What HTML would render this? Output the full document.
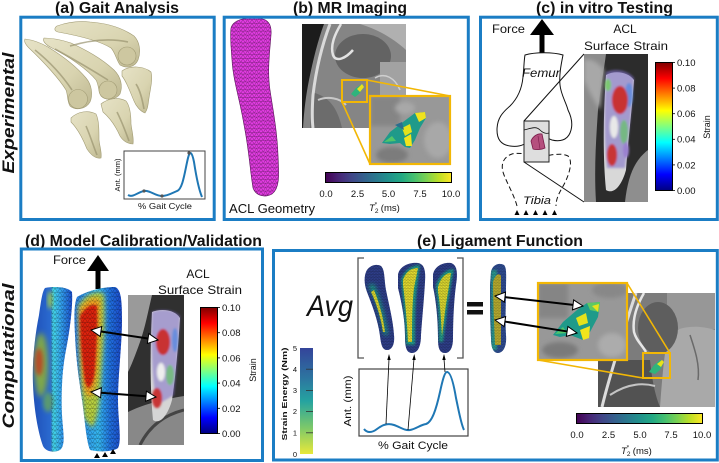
<!DOCTYPE html>
<html><head><meta charset="utf-8"><style>
html,body{margin:0;padding:0;background:#fff;width:719px;height:463px;overflow:hidden}
svg{display:block}
text{font-family:"Liberation Sans",Arial,sans-serif;fill:#111}
</style></head><body>
<svg width="719" height="463" viewBox="0 0 719 463" xmlns="http://www.w3.org/2000/svg">
<defs>
<linearGradient id="vir" x1="0" x2="1" y1="0" y2="0">
<stop offset="0" stop-color="#440154"/><stop offset="0.1" stop-color="#482475"/><stop offset="0.2" stop-color="#414487"/><stop offset="0.3" stop-color="#355f8d"/><stop offset="0.4" stop-color="#2a788e"/><stop offset="0.5" stop-color="#21918c"/><stop offset="0.6" stop-color="#22a884"/><stop offset="0.7" stop-color="#44bf70"/><stop offset="0.8" stop-color="#7ad151"/><stop offset="0.9" stop-color="#bddf26"/><stop offset="1" stop-color="#fde725"/>
</linearGradient>
<linearGradient id="jet" x1="0" x2="0" y1="0" y2="1">
<stop offset="0" stop-color="#800000"/><stop offset="0.125" stop-color="#ff0000"/><stop offset="0.375" stop-color="#ffff00"/><stop offset="0.625" stop-color="#00ffff"/><stop offset="0.875" stop-color="#0000ff"/><stop offset="1" stop-color="#000080"/>
</linearGradient>
<linearGradient id="se" x1="0" x2="0" y1="0" y2="1">
<stop offset="0" stop-color="#34449a"/><stop offset="0.3" stop-color="#2c78a0"/><stop offset="0.5" stop-color="#25a3a0"/><stop offset="0.75" stop-color="#7cc86a"/><stop offset="1" stop-color="#e8e83a"/>
</linearGradient>
<linearGradient id="bone" x1="0" x2="1" y1="0" y2="1">
<stop offset="0" stop-color="#e6e2c6"/><stop offset="0.6" stop-color="#d9d4b0"/><stop offset="1" stop-color="#bdb790"/>
</linearGradient>
<linearGradient id="dL" x1="33" x2="72" y1="0" y2="0" gradientUnits="userSpaceOnUse">
<stop offset="0" stop-color="#1f50b8"/><stop offset="0.45" stop-color="#2a6ad0"/><stop offset="0.52" stop-color="#45d8e8"/><stop offset="0.7" stop-color="#35a8f0"/><stop offset="1" stop-color="#1a50d0"/>
</linearGradient>
<linearGradient id="dR" x1="75" x2="122" y1="0" y2="0" gradientUnits="userSpaceOnUse">
<stop offset="0" stop-color="#2a80e8"/><stop offset="0.5" stop-color="#35b8f0"/><stop offset="0.75" stop-color="#2070e0"/><stop offset="1" stop-color="#1a48c8"/>
</linearGradient>
<pattern id="mesh" width="5" height="4.3" patternUnits="userSpaceOnUse">
<path d="M0,0H5M0,4.3H5M0,0L2.5,4.3L5,0" stroke="#000" stroke-width="0.35" fill="none"/>
</pattern>
<pattern id="meshs" width="3.2" height="2.8" patternUnits="userSpaceOnUse">
<path d="M0,0H3.2M0,2.8H3.2M0,0L1.6,2.8L3.2,0" stroke="#000" stroke-width="0.3" fill="none"/>
</pattern>
<pattern id="meshp" width="4.5" height="3.9" patternUnits="userSpaceOnUse">
<path d="M0,0H4.5M0,3.9H4.5M0,0L2.25,3.9L4.5,0" stroke="#2a0a2a" stroke-width="0.35" fill="none"/>
</pattern>
<filter id="bl1" x="-20%" y="-20%" width="140%" height="140%"><feGaussianBlur stdDeviation="1"/></filter>
<filter id="bl2" x="-30%" y="-30%" width="160%" height="160%"><feGaussianBlur stdDeviation="2"/></filter>
<filter id="bl3" x="-30%" y="-30%" width="160%" height="160%"><feGaussianBlur stdDeviation="3"/></filter>
<clipPath id="cMRb"><rect x="302" y="24" width="104" height="104"/></clipPath>
<clipPath id="cInB"><rect x="370" y="96" width="80" height="68"/></clipPath>
<clipPath id="cPhC"><rect x="584" y="54" width="64" height="148"/></clipPath>
<clipPath id="cPhD"><rect x="128" y="295" width="56" height="150"/></clipPath>
<clipPath id="cMRe"><rect x="598" y="293" width="117" height="114"/></clipPath>
<clipPath id="cInE"><rect x="538" y="283" width="89" height="77"/></clipPath>
<clipPath id="cdL"><path d="M45,288 C55,286 68,287 72,292 C73,305 70,330 66,350 C62,370 61,395 62,415 C63,432 66,445 60,450 C54,453 46,452 43,446 C38,432 34,410 33,385 C32,360 35,335 39,315 C41,302 42,292 45,288 Z"/></clipPath>
<clipPath id="cdR"><path d="M77,297 C85,292 100,287 115,287 C121,289 122,300 122,320 C122,345 118,375 118,400 C118,420 122,440 118,448 C113,452 98,452 90,450 C86,440 85,420 82,400 C79,380 76,360 75,335 C74,318 74,304 77,297 Z"/></clipPath>
<clipPath id="ce1"><path d="M366,272 C368,266 376,263 381,266 C385,270 384,278 386,290 C389,305 393,320 394,335 C395,344 392,350 387,350 C382,350 381,344 380,336 C378,320 372,305 367,292 C364,284 364,277 366,272 Z"/></clipPath>
<clipPath id="ce2"><path d="M398,275 C399,267 408,262 418,263 C424,264 426,270 425,282 C424,300 422,320 421,335 C421,346 418,353 412,353 C406,353 405,346 405,336 C405,318 401,300 398,288 Z"/></clipPath>
<clipPath id="ce3"><path d="M433,275 C434,267 442,262 451,263 C457,265 458,272 456,285 C454,300 453,320 453,338 C453,348 450,353 445,353 C439,353 438,347 438,338 C438,320 436,300 433,287 Z"/></clipPath>
<clipPath id="ce4"><path d="M491,272 C492,265 499,262 504,265 C507,268 506,276 506,290 C506,305 505,320 506,335 C507,347 503,353 498,353 C493,353 491,347 491,338 C490,320 490,300 490,285 Z"/></clipPath>
<clipPath id="cPink"><path d="M231,28 C233,20 245,17 258,18 C268,19 272,24 271,35 C270,50 267,70 270,90 C273,110 277,130 278,155 C279,175 280,188 272,194 C265,198 256,196 253,188 C250,170 249,150 244,125 C240,100 233,80 232,60 C231,48 230,36 231,28 Z"/></clipPath>
</defs>

<!-- ===== Titles ===== -->
<g font-weight="bold" font-size="16">
<text x="55" y="13" textLength="124" lengthAdjust="spacingAndGlyphs">(a) Gait Analysis</text>
<text x="293" y="13" textLength="114" lengthAdjust="spacingAndGlyphs">(b) MR Imaging</text>
<text x="536" y="13" textLength="137" lengthAdjust="spacingAndGlyphs">(c) in vitro Testing</text>
<text x="25" y="246" textLength="237" lengthAdjust="spacingAndGlyphs">(d) Model Calibration/Validation</text>
<text x="417" y="246" textLength="166" lengthAdjust="spacingAndGlyphs">(e) Ligament Function</text>
</g>
<text transform="translate(14,113) rotate(-90)" text-anchor="middle" font-size="17" font-weight="bold" font-style="italic" textLength="121" lengthAdjust="spacingAndGlyphs">Experimental</text>
<text transform="translate(14,356) rotate(-90)" text-anchor="middle" font-size="17" font-weight="bold" font-style="italic" textLength="145" lengthAdjust="spacingAndGlyphs">Computational</text>

<!-- ===== (a) bones ===== -->
<g fill="url(#bone)" stroke="#a39d76" stroke-width="0.6">
<!-- femur 1 -->
<path d="M57,26 C68,22 80,21 90,22 C105,23 121,27 134,36 C140,42 141,52 138,60 C135,67 127,69 120,65 C116,59 115,52 111,48 C100,41 80,36 58,32 C54,31 54,28 57,26 Z"/>
<!-- tibia 1 -->
<path d="M122,71 C130,65 144,66 151,72 C153,80 150,90 149,98 C148,104 148,109 145,113 C140,111 136,106 134,101 C130,92 127,82 122,76 Z"/>
<!-- femur 2 -->
<path d="M44,38 C52,38 62,40 71,43 C86,50 101,58 114,70 C121,77 123,86 120,94 C116,100 106,101 101,96 C98,91 99,85 96,80 C88,70 70,57 52,48 C46,45 42,41 44,38 Z"/>
<!-- tibia 2 -->
<path d="M101,104 C108,98 119,97 126,101 C130,106 131,115 131,124 C132,132 134,138 133,144 C128,144 123,141 120,136 C116,127 110,118 103,112 Z"/>
<!-- femur 3 -->
<path d="M25,39 C33,40 41,43 48,47 C61,55 76,66 86,78 C92,85 93,95 90,102 C86,109 76,111 70,106 C67,101 68,95 66,90 C60,80 45,63 29,48 C25,44 24,41 25,39 Z"/>
<!-- tibia 3 -->
<path d="M71,118 C78,111 89,110 96,114 C99,120 99,130 99,140 C100,148 102,153 101,158 C96,159 91,155 87,149 C83,139 77,128 71,122 Z"/>
</g>
<g fill="#cdc7a0" stroke="#a39d76" stroke-width="0.6">
<circle cx="127" cy="56" r="9"/>
<circle cx="108" cy="90" r="9"/>
<circle cx="78" cy="99" r="9.5"/>
</g>
<g stroke="#9a9470" stroke-width="1.6" fill="none" opacity="0.7">
<path d="M136,84 C140,90 142,98 144,109"/>
<path d="M117,112 C121,120 125,130 129,141"/>
<path d="M86,126 C90,135 93,145 97,155"/>
<path d="M70,46 C90,40 110,38 128,42"/>
<path d="M55,49 C75,60 92,70 108,80"/>
<path d="M35,50 C50,62 62,75 72,90"/>
</g>
<!-- (a) inset plot -->
<rect x="124" y="151" width="81" height="48" fill="#fff" stroke="#444" stroke-width="1"/>
<path d="M128,195 C133,198 138,192 144,191 C150,190 155,196 162,196 C168,196 172,193 177,191 C183,189 185,170 188,158 C190,150 192,152 194,162 C196,175 199,190 202,197" stroke="#1f77b4" stroke-width="2" fill="none"/>
<g fill="#555"><circle cx="144" cy="191" r="1.6"/><circle cx="162" cy="196" r="1.6"/><circle cx="189" cy="153" r="1.6"/></g>
<text transform="translate(120,175) rotate(-90)" text-anchor="middle" font-size="7.5">Ant. (mm)</text>
<text x="165" y="209" text-anchor="middle" font-size="8.5" textLength="54" lengthAdjust="spacingAndGlyphs">% Gait Cycle</text>

<!-- ===== (b) ===== -->
<path d="M231,28 C233,20 245,17 258,18 C268,19 272,24 271,35 C270,50 267,70 270,90 C273,110 277,130 278,155 C279,175 280,188 272,194 C265,198 256,196 253,188 C250,170 249,150 244,125 C240,100 233,80 232,60 C231,48 230,36 231,28 Z" fill="#e23ce2"/>
<g clip-path="url(#cPink)"><rect x="228" y="15" width="55" height="185" fill="url(#meshp)" opacity="0.8"/></g>
<path d="M231,28 C233,20 245,17 258,18 C268,19 272,24 271,35 C270,50 267,70 270,90 C273,110 277,130 278,155 C279,175 280,188 272,194 C265,198 256,196 253,188 C250,170 249,150 244,125 C240,100 233,80 232,60 C231,48 230,36 231,28 Z" fill="none" stroke="#5a125a" stroke-width="0.6"/>
<text x="229" y="213" font-size="12.5" textLength="86" lengthAdjust="spacingAndGlyphs">ACL Geometry</text>

<g clip-path="url(#cMRb)">
<rect x="302" y="24" width="104" height="104" fill="#858585"/>
<path d="M360,24 H406 V50 C395,40 380,30 360,24 Z" fill="#b0b0b0"/>
<ellipse cx="363" cy="56" rx="28" ry="22" fill="#636363"/>
<rect x="380" y="62" width="26" height="66" fill="#a2a2a2"/>
<path d="M312,92 C325,96 336,102 342,128 H310 Z" fill="#6c6c6c"/>
<path d="M302,24 H324 C318,40 313,60 309,80 C306,95 304,110 303,128 H302 Z" fill="#1c1c1c"/>
<path d="M330,24 C322,45 316,70 313,95 C312,110 312,120 313,128" stroke="#dadada" stroke-width="3" fill="none"/>
<path d="M341,24 C335,34 330,45 333,55 C336,63 346,58 353,50" stroke="#e2e2e2" stroke-width="2.5" fill="none"/>
<path d="M318,100 C328,96 340,98 346,105" stroke="#c8c8c8" stroke-width="2" fill="none"/>
<path d="M375,78 C385,72 395,78 400,90" stroke="#cfcfcf" stroke-width="1.5" fill="none"/>
<path d="M351,94 L356,88 L362,84 L364,87 L359,94 L355,97 Z" fill="#2fb47c"/>
<path d="M357,89 L362,84 L364,87 L360,92 Z" fill="#e8e21c"/>
</g>
<rect x="342" y="80" width="25" height="22" fill="none" stroke="#f2b705" stroke-width="2"/>
<line x1="367" y1="80" x2="450" y2="96" stroke="#f2b705" stroke-width="1.6"/>
<line x1="342" y1="102" x2="370" y2="164" stroke="#f2b705" stroke-width="1.6"/>
<g clip-path="url(#cInB)">
<rect x="370" y="96" width="80" height="68" fill="#989898"/>
<rect x="370" y="96" width="30" height="30" fill="#858585" filter="url(#bl2)"/>
<ellipse cx="438" cy="140" rx="14" ry="18" fill="#a8a8a8" filter="url(#bl2)"/>
<ellipse cx="392" cy="155" rx="16" ry="8" fill="#7c7c7c" filter="url(#bl2)"/>
<ellipse cx="405" cy="108" rx="10" ry="6" fill="#a8a8a8" filter="url(#bl2)"/>
<path d="M382,143 L390,132 L403,122 L415,113 L425,112 L426,118 L420,128 L415,140 L410,148 L405,147 L400,143 L390,144 Z" fill="#1f9a8a"/>
<path d="M415,113 L425,112 L426,118 L419,122 Z" fill="#f0e21e"/>
<path d="M402,128 L410,124 L412,132 L405,136 Z" fill="#e4e21c"/>
<path d="M404,138 L411,134 L412,146 L406,146 Z" fill="#f2e51c"/>
<path d="M384,142 L392,136 L396,141 Z" fill="#52c56a"/>
<path d="M395,125 L402,122 L404,130 Z" fill="#2a6e8e"/>
</g>
<rect x="370" y="96" width="80" height="68" fill="none" stroke="#f2b705" stroke-width="2.2"/>
<rect x="325.5" y="172.5" width="126" height="10" fill="url(#vir)" stroke="#000" stroke-width="1"/>
<g font-size="9.5" text-anchor="middle">
<text x="326" y="197">0.0</text><text x="357.5" y="197">2.5</text><text x="388.5" y="197">5.0</text><text x="420" y="197">7.5</text><text x="451" y="197">10.0</text>
</g>
<text x="369" y="211" font-size="9.5"><tspan font-style="italic">T</tspan><tspan font-size="6.5" dy="2">2</tspan><tspan font-size="6.5" dy="-6.5" dx="-3.8">*</tspan><tspan dy="4.5" dx="1"> (ms)</tspan></text>

<!-- ===== (c) ===== -->
<text x="492" y="33" font-size="12" textLength="33" lengthAdjust="spacingAndGlyphs">Force</text>
<polygon points="530,35 554,35 542,19" fill="#000"/>
<rect x="539.5" y="34" width="5" height="20" fill="#000"/>
<text x="625" y="33" font-size="12" text-anchor="middle">ACL</text>
<text x="626" y="50" font-size="12" text-anchor="middle" textLength="84" lengthAdjust="spacingAndGlyphs">Surface Strain</text>
<path d="M525,55 C535,52 553,52 563,55 C561,65 559,75 560,85 C561,95 566,102 568,110 C572,118 573,126 570,133 C567,140 560,142 552,140 C549,139 545,136 540,136 C534,136 531,140 528,142 C522,146 517,147 510,146 C502,145 497,140 497,130 C497,118 503,112 510,106 C518,98 522,88 523,77 C524,68 524,60 525,55 Z" fill="#fff" stroke="#111" stroke-width="1"/>
<path d="M517,206 C514,195 508,185 504,175 C500,165 503,157 512,154 C520,152 530,155 540,156 C550,156 560,152 568,156 C574,162 568,178 562,188 C558,195 556,200 556,206" fill="none" stroke="#111" stroke-width="1" stroke-dasharray="5,3"/>
<text x="541" y="77" font-size="11.5" font-style="italic" text-anchor="middle" textLength="38" lengthAdjust="spacingAndGlyphs">Femur</text>
<text x="537" y="204" font-size="11" font-style="italic" text-anchor="middle" textLength="28" lengthAdjust="spacingAndGlyphs">Tibia</text>
<rect x="524" y="121" width="25" height="41" fill="#dedede" stroke="#222" stroke-width="1"/>
<path d="M524,130 C532,128 536,126 540,130 C543,133 546,134 549,133" fill="none" stroke="#111" stroke-width="0.8"/>
<path d="M531,141 C533,136 538,133 542,134 L545,148 C541,150 536,150 533,149 Z" fill="#b5507e" stroke="#7a1c4a" stroke-width="0.8"/>
<line x1="538" y1="136" x2="540" y2="149" stroke="#7a1c4a" stroke-width="0.6"/>
<line x1="524" y1="121" x2="584" y2="54" stroke="#111" stroke-width="1"/>
<line x1="524" y1="162" x2="584" y2="202" stroke="#111" stroke-width="1"/>
<g fill="#000">
<polygon points="514.5,215 519.5,215 517,210"/><polygon points="523.5,215 528.5,215 526,210"/><polygon points="533,215 538,215 535.5,210"/><polygon points="542.5,215 547.5,215 545,210"/><polygon points="552,215 557,215 554.5,210"/>
</g>
<g clip-path="url(#cPhC)">
<rect x="584" y="54" width="64" height="148" fill="#2c2c2c"/>
<path d="M584,54 H606 C604,70 600,90 598,110 C596,140 594,170 596,202 H584 Z" fill="#8c8c8c"/>
<path d="M584,60 C590,58 598,62 604,70 L600,110 C594,100 588,90 584,80 Z" fill="#a8a8a8" filter="url(#bl2)"/>
<path d="M648,150 C635,160 628,175 625,202 H648 Z" fill="#8e8e8e"/>
<path d="M606,75 C615,70 628,72 634,80 C632,110 628,140 626,170 C622,185 614,195 606,190 C603,160 603,120 606,75 Z" fill="#d8d8d8"/>
<g filter="url(#bl1)">
<path d="M606,72 C615,68 628,70 634,78 C632,110 628,140 625,168 L607,168 C604,140 604,110 606,72 Z" fill="#8070c8" opacity="0.6"/>
<ellipse cx="629" cy="95" rx="4" ry="12" fill="#5a8ae0" opacity="0.8"/>
<ellipse cx="624" cy="132" rx="4" ry="12" fill="#6cc070" opacity="0.8"/>
<ellipse cx="620" cy="100" rx="8" ry="14" fill="#c83030"/>
<ellipse cx="612" cy="155" rx="5" ry="11" fill="#c83434"/>
<ellipse cx="614" cy="127" rx="4" ry="11" fill="#e8e8e8"/>
<ellipse cx="608" cy="85" rx="3" ry="6" fill="#7ac870"/>
<ellipse cx="626" cy="150" rx="3" ry="8" fill="#9a80d0"/>
</g>
</g>
<rect x="655.5" y="62.5" width="17" height="128" fill="url(#jet)" stroke="#000" stroke-width="1"/>
<g stroke="#000" stroke-width="0.8">
<line x1="672" y1="62.5" x2="675" y2="62.5"/><line x1="672" y1="88.1" x2="675" y2="88.1"/><line x1="672" y1="113.7" x2="675" y2="113.7"/><line x1="672" y1="139.3" x2="675" y2="139.3"/><line x1="672" y1="164.9" x2="675" y2="164.9"/><line x1="672" y1="190.5" x2="675" y2="190.5"/>
</g>
<g font-size="9.5">
<text x="677" y="66">0.10</text><text x="677" y="91.5">0.08</text><text x="677" y="117">0.06</text><text x="677" y="142.7">0.04</text><text x="677" y="168.3">0.02</text><text x="677" y="194">0.00</text>
</g>
<text transform="translate(710,127) rotate(-90)" font-size="9" text-anchor="middle">Strain</text>

<!-- ===== (d) ===== -->
<text x="53" y="264" font-size="12" textLength="33" lengthAdjust="spacingAndGlyphs">Force</text>
<polygon points="87,271 109,271 98,255" fill="#000"/>
<rect x="95.5" y="270" width="5" height="19" fill="#000"/>
<text x="198" y="278" font-size="12" text-anchor="middle">ACL</text>
<text x="200" y="294" font-size="12" text-anchor="middle" textLength="84" lengthAdjust="spacingAndGlyphs">Surface Strain</text>
<!-- left model -->
<g clip-path="url(#cdL)">
<rect x="30" y="284" width="46" height="172" fill="url(#dL)"/>
<ellipse cx="41" cy="365" rx="7" ry="32" fill="#80a848" filter="url(#bl3)"/>
<ellipse cx="39" cy="362" rx="4" ry="14" fill="#b84a28" filter="url(#bl2)"/>
<ellipse cx="48" cy="402" rx="5" ry="10" fill="#5a9a70" filter="url(#bl2)"/>
<ellipse cx="50" cy="300" rx="2.5" ry="9" fill="#9cc850" filter="url(#bl2)"/>
<rect x="51" y="284" width="25" height="172" fill="url(#mesh)" opacity="0.55"/>
</g>
<!-- right model -->
<g clip-path="url(#cdR)">
<rect x="72" y="284" width="52" height="172" fill="url(#dR)"/>
<g filter="url(#bl2)">
<path d="M78,306 C85,294 97,290 104,294 C106,320 103,350 101,380 C100,400 98,420 92,428 L84,418 C81,390 78,350 78,306 Z" fill="#b8d040"/>
<path d="M79,310 C86,299 95,296 100,300 C101,325 99,350 97,372 C96,386 94,394 89,398 L84,390 C81,365 79,340 79,310 Z" fill="#f0a020"/>
</g>
<path d="M80,316 C86,306 93,303 97,306 C98,328 96,352 95,370 C94,380 92,386 88,388 L85,382 C82,360 80,340 80,316 Z" fill="#dc2010" filter="url(#bl1)"/>
<rect x="72" y="284" width="52" height="172" fill="url(#mesh)" opacity="0.55"/>
</g>
<g clip-path="url(#cPhD)">
<rect x="128" y="295" width="56" height="150" fill="#303030"/>
<path d="M128,295 H152 C148,312 145,328 140,342 C135,356 131,366 128,372 Z" fill="#9a9a9a"/>
<path d="M128,412 C142,405 160,400 184,396 V445 H128 Z" fill="#888"/>
<path d="M140,445 C150,425 165,415 184,410" stroke="#444" stroke-width="3" fill="none"/>
<path d="M152,312 C162,308 175,310 180,318 C178,350 175,380 172,400 C168,415 160,425 153,420 C150,390 150,350 152,312 Z" fill="#d5d5d5"/>
<g filter="url(#bl1)">
<path d="M152,312 C162,308 175,310 180,316 C178,350 176,375 174,395 L157,405 C152,380 151,350 152,312 Z" fill="#8070c8" opacity="0.55"/>
<ellipse cx="175" cy="340" rx="3" ry="12" fill="#5a8ae0" opacity="0.8"/>
<ellipse cx="170" cy="375" rx="4" ry="10" fill="#6cc070" opacity="0.8"/>
<ellipse cx="163" cy="342" rx="7" ry="13" fill="#c83030"/>
<ellipse cx="157" cy="398" rx="5" ry="10" fill="#c83434"/>
<ellipse cx="161" cy="372" rx="4" ry="9" fill="#eeeeee"/>
</g>
</g>
<rect x="200.5" y="307.5" width="17" height="126" fill="url(#jet)" stroke="#000" stroke-width="1"/>
<g stroke="#000" stroke-width="0.8">
<line x1="217" y1="307.5" x2="220" y2="307.5"/><line x1="217" y1="332.7" x2="220" y2="332.7"/><line x1="217" y1="357.9" x2="220" y2="357.9"/><line x1="217" y1="383.1" x2="220" y2="383.1"/><line x1="217" y1="408.3" x2="220" y2="408.3"/><line x1="217" y1="433.5" x2="220" y2="433.5"/>
</g>
<g font-size="9.5">
<text x="222" y="311">0.10</text><text x="222" y="336.2">0.08</text><text x="222" y="361.4">0.06</text><text x="222" y="386.6">0.04</text><text x="222" y="411.8">0.02</text><text x="222" y="437">0.00</text>
</g>
<text transform="translate(256,370) rotate(-90)" font-size="9" text-anchor="middle">Strain</text>
<!-- arrows d -->
<line x1="100.9" y1="331.5" x2="148.1" y2="338.5" stroke="#000" stroke-width="2"/>
<polygon points="158,340 147.36,343.45 148.84,333.55" fill="#fff" stroke="#000" stroke-width="1"/>
<polygon points="91,330 100.16,336.45 101.64,326.55" fill="#fff" stroke="#000" stroke-width="1"/>
<line x1="100.97" y1="392.77" x2="146.03" y2="396.23" stroke="#000" stroke-width="2"/>
<polygon points="156,397 145.65,401.22 146.41,391.24" fill="#fff" stroke="#000" stroke-width="1"/>
<polygon points="91,392 100.59,397.75 101.35,387.78" fill="#fff" stroke="#000" stroke-width="1"/>
<g fill="#000">
<polygon points="94,458 100,458 97,453"/><polygon points="102,457 108,457 105,452"/><polygon points="110,454 116,454 113,449"/>
</g>

<!-- ===== (e) ===== -->
<text x="307" y="316" font-size="30" font-style="italic" textLength="46" lengthAdjust="spacingAndGlyphs">Avg</text>
<path d="M364,258 H358 V358 H364" fill="none" stroke="#555" stroke-width="1.3"/>
<path d="M457,258 H463 V358 H457" fill="none" stroke="#555" stroke-width="1.3"/>
<!-- model e1 -->
<g clip-path="url(#ce1)">
<rect x="360" y="260" width="40" height="95" fill="#2f3f8c"/>
<path d="M368,285 C374,295 380,312 384,335 L388,335 C385,315 380,298 374,284 Z" fill="#1fa08a" filter="url(#bl2)"/>
<path d="M371,292 C376,302 381,318 383,332 L385,332 C383,316 379,302 374,290 Z" fill="#e0dc30"/>
<rect x="360" y="260" width="40" height="95" fill="url(#meshs)" opacity="0.5"/>
</g>
<!-- model e2 -->
<g clip-path="url(#ce2)">
<rect x="395" y="260" width="35" height="95" fill="#2f3f8c"/>
<path d="M401,280 C404,270 412,265 420,265 L417,288 C415,305 415,325 415,345 L406,345 C405,320 403,300 401,280 Z" fill="#22a08c" filter="url(#bl1)"/>
<path d="M403,280 C406,271 412,268 418,268 L414,288 C412,305 412,325 412,342 L408,342 C407,320 405,300 403,285 Z" fill="#e8e030"/>
<rect x="395" y="260" width="35" height="95" fill="url(#meshs)" opacity="0.5"/>
</g>
<!-- model e3 -->
<g clip-path="url(#ce3)">
<rect x="430" y="260" width="30" height="95" fill="#2f3f8c"/>
<path d="M436,285 C440,274 447,269 454,269 C451,285 448,300 446,320 L443,342 L439,342 C439,320 438,300 436,292 Z" fill="#22a08c" filter="url(#bl1)"/>
<path d="M438,287 C441,277 446,273 451,273 C449,287 446,302 444,320 L442,336 C441,318 440,302 438,292 Z" fill="#e0dc30"/>
<rect x="430" y="260" width="30" height="95" fill="url(#meshs)" opacity="0.5"/>
</g>
<!-- equals -->
<rect x="467" y="302" width="16" height="4.5" fill="#111"/>
<rect x="467" y="310" width="16" height="4.5" fill="#111"/>
<!-- averaged model -->
<g clip-path="url(#ce4)">
<rect x="487" y="260" width="22" height="96" fill="#2f4c92"/>
<rect x="491" y="270" width="6" height="80" fill="#2a9a90" filter="url(#bl1)"/>
<path d="M493,282 C495,275 499,272 501,276 L501,345 L495,345 C494,320 493,300 493,282 Z" fill="#b8ac30"/>
<rect x="487" y="260" width="22" height="96" fill="url(#meshs)" opacity="0.4"/>
</g>
<!-- gait plot e -->
<rect x="359" y="369" width="109" height="67" fill="#fff" stroke="#444" stroke-width="1.2"/>
<path d="M364,429 C367,433 372,433 377,429 C382,425 388,423 394,425 C400,427 405,431 410,430 C416,429 420,425 426,424 C432,422 436,410 440,392 C443,378 445,372 447,372 C451,372 454,386 456,398 C459,412 461,424 464,430" stroke="#1f77b4" stroke-width="2" fill="none"/>
<g stroke="#000" stroke-width="0.8">
<line x1="386" y1="424" x2="389" y2="359"/><line x1="408" y1="430" x2="414" y2="359"/><line x1="445" y1="372" x2="444" y2="359"/>
</g>
<g fill="#000">
<polygon points="389,354 387.3,360 390.7,360"/><polygon points="414.3,354 412.3,360 415.7,360"/><polygon points="444,354 442.3,360 445.7,360"/>
</g>
<text transform="translate(351,401) rotate(-90)" text-anchor="middle" font-size="10.5" textLength="51" lengthAdjust="spacingAndGlyphs">Ant. (mm)</text>
<text x="413" y="449" text-anchor="middle" font-size="11" textLength="70" lengthAdjust="spacingAndGlyphs">% Gait Cycle</text>
<!-- strain energy colorbar -->
<rect x="300" y="348" width="13" height="106" fill="url(#se)"/>
<g stroke="#333" stroke-width="0.8">
<line x1="306" y1="369.2" x2="313" y2="369.2"/><line x1="306" y1="390.4" x2="313" y2="390.4"/><line x1="306" y1="411.6" x2="313" y2="411.6"/><line x1="306" y1="432.8" x2="313" y2="432.8"/>
</g>
<g font-size="7.5" text-anchor="end">
<text x="297" y="351">5</text><text x="297" y="372">4</text><text x="297" y="393">3</text><text x="297" y="414">2</text><text x="297" y="435.5">1</text><text x="297" y="457">0</text>
</g>
<text transform="translate(287,394) rotate(-90)" text-anchor="middle" font-size="7.5" font-weight="bold" textLength="93" lengthAdjust="spacingAndGlyphs">Strain Energy (Nm)</text>
<!-- MR image e -->
<g clip-path="url(#cMRe)">
<rect x="598" y="293" width="117" height="114" fill="#7c7c7c"/>
<rect x="667" y="293" width="48" height="36" fill="#979797"/>
<path d="M668,335 C680,325 700,325 715,330 V407 H660 C662,380 664,355 668,335 Z" fill="#a9a9a9"/>
<ellipse cx="658" cy="328" rx="20" ry="26" fill="#5e5e5e"/>
<path d="M598,360 H650 C652,380 655,395 660,407 H598 Z" fill="#525252"/>
<path d="M636,293 C630,310 624,330 618,350 C612,370 606,390 602,407" stroke="#dcdcdc" stroke-width="3" fill="none"/>
<path d="M644,293 C637,305 632,318 634,332 C636,340 642,345 646,352" stroke="#e6e6e6" stroke-width="2.5" fill="none"/>
<path d="M610,395 C625,385 640,382 655,386" stroke="#c4c4c4" stroke-width="2" fill="none"/>
<path d="M690,335 C695,350 700,365 698,380" stroke="#6a6a6a" stroke-width="1.5" fill="none"/>
<path d="M649,372 L654,365 L660,360 L664,362 L660,370 L655,374 Z" fill="#2fb47c"/>
<path d="M657,364 L662,360 L664,362 L661,367 Z" fill="#e8e21c"/>
</g>
<rect x="643" y="353" width="27" height="25" fill="none" stroke="#f2b705" stroke-width="2"/>
<line x1="627" y1="283" x2="670" y2="353" stroke="#f2b705" stroke-width="1.6"/>
<line x1="538" y1="360" x2="643" y2="378" stroke="#f2b705" stroke-width="1.6"/>
<g clip-path="url(#cInE)">
<rect x="538" y="283" width="89" height="77" fill="#989898"/>
<rect x="538" y="283" width="30" height="35" fill="#858585" filter="url(#bl2)"/>
<ellipse cx="610" cy="290" rx="18" ry="8" fill="#888" filter="url(#bl2)"/>
<ellipse cx="612" cy="345" rx="14" ry="12" fill="#acacac" filter="url(#bl2)"/>
<ellipse cx="560" cy="350" rx="18" ry="8" fill="#7a7a7a" filter="url(#bl2)"/>
<path d="M553,335 L563,322 L577,310 L587,303 L600,302 L598,317 L590,332 L583,340 L578,338 L570,335 L560,337 Z" fill="#1f9a8a"/>
<path d="M587,303 L600,302 L599,312 L590,310 Z" fill="#5ec962"/>
<path d="M576,318 L586,313 L588,323 L579,326 Z" fill="#e4e21c"/>
<path d="M580,330 L590,326 L589,338 L583,340 Z" fill="#f2e51c"/>
<path d="M592,306 L599,304 L598,312 Z" fill="#e8e21c"/>
<path d="M555,334 L563,327 L567,333 Z" fill="#52c56a"/>
</g>
<rect x="538" y="283" width="89" height="77" fill="none" stroke="#f2b705" stroke-width="2.2"/>
<!-- arrows e -->
<line x1="504.94" y1="297.13" x2="573.06" y2="304.87" stroke="#000" stroke-width="2"/>
<polygon points="583,306 572.50,309.84 573.63,299.90" fill="#fff" stroke="#000" stroke-width="1"/>
<polygon points="495,296 504.37,302.10 505.50,292.16" fill="#fff" stroke="#000" stroke-width="1"/>
<line x1="504.88" y1="321.57" x2="567.12" y2="331.43" stroke="#000" stroke-width="2"/>
<polygon points="577,333 566.34,336.37 567.91,326.50" fill="#fff" stroke="#000" stroke-width="1"/>
<polygon points="495,320 504.09,326.50 505.66,316.63" fill="#fff" stroke="#000" stroke-width="1"/>
<!-- colorbar e -->
<rect x="576.5" y="413.5" width="126" height="10" fill="url(#vir)" stroke="#000" stroke-width="1"/>
<g font-size="9.5" text-anchor="middle">
<text x="577" y="438">0.0</text><text x="608.5" y="438">2.5</text><text x="640" y="438">5.0</text><text x="671" y="438">7.5</text><text x="702" y="438">10.0</text>
</g>
<text x="621" y="454" font-size="9.5"><tspan font-style="italic">T</tspan><tspan font-size="6.5" dy="2">2</tspan><tspan font-size="6.5" dy="-6.5" dx="-3.8">*</tspan><tspan dy="4.5" dx="1"> (ms)</tspan></text>

<!-- ===== Panel boxes ===== -->
<g fill="none" stroke="#1b7dc4" stroke-width="3">
<rect x="20.8" y="17.2" width="193.4" height="202.3"/>
<rect x="224.2" y="17.2" width="244.1" height="202.3"/>
<rect x="480.5" y="17.2" width="236.8" height="202.3"/>
<rect x="21.3" y="249" width="241.2" height="211.5"/>
<rect x="273.5" y="250.5" width="443.8" height="209.5"/>
</g>
</svg>
</body></html>
